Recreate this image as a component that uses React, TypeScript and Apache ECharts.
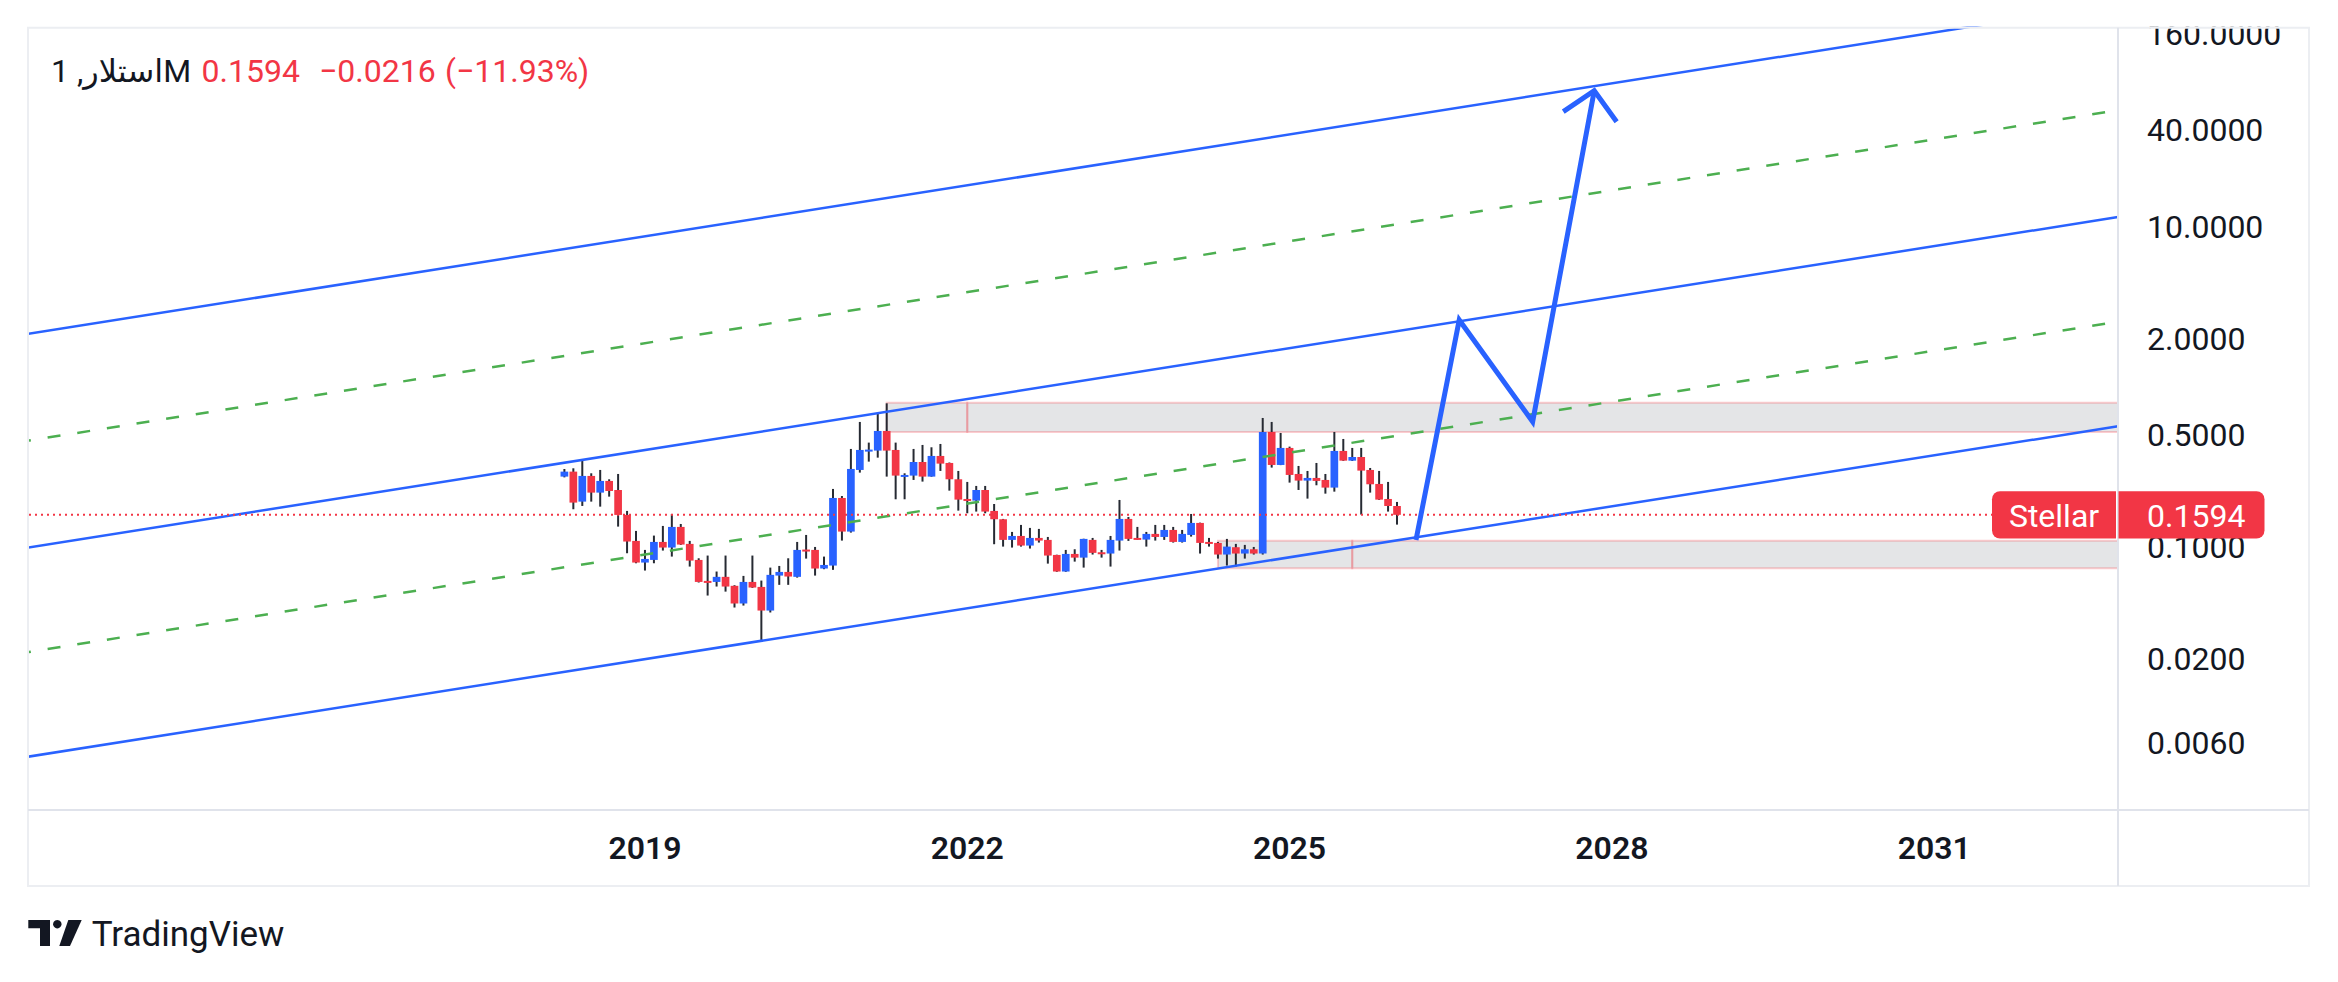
import React, { useEffect, useRef } from "react";
import * as echarts from "echarts";

const W = 2338;
const H = 982;

// ---- data (monthly candles, month index = months since Jan 2018; first candle = Apr 2018) ----
const firstMonthIndex = 3;
const opens = [
  0.276, 0.2965, 0.1927, 0.2787, 0.2193, 0.2594, 0.2278, 0.1592, 0.1096, 0.0803,
  0.0834, 0.108, 0.0996, 0.134, 0.105, 0.0834, 0.0617, 0.0608, 0.0654, 0.0575,
  0.0446, 0.0608, 0.0566, 0.0403, 0.0666, 0.0702, 0.0654, 0.0968, 0.0963, 0.0737,
  0.0769, 0.2031, 0.1253, 0.3037, 0.399, 0.401, 0.5317, 0.4048, 0.2773, 0.28,
  0.3406, 0.276, 0.3714, 0.3358, 0.2656, 0.2002, 0.1955, 0.2278, 0.1686, 0.1496,
  0.1112, 0.1177, 0.1025, 0.1144, 0.1112, 0.0896, 0.0706, 0.0909, 0.0862, 0.1112,
  0.0931, 0.0914, 0.1101, 0.1503, 0.1144, 0.1117, 0.1212, 0.116, 0.1283, 0.108,
  0.1194, 0.1419, 0.108, 0.1065, 0.0901, 0.1001, 0.0914, 0.0972, 0.0914, 0.5241,
  0.3263, 0.4167, 0.2867, 0.2606, 0.2708, 0.2631, 0.2357, 0.399, 0.3471, 0.3659,
  0.3037, 0.2484, 0.2002, 0.181,
];
const closes = [
  0.2965, 0.19, 0.2787, 0.2193, 0.2594, 0.2245, 0.1592, 0.1086, 0.0803, 0.0846,
  0.108, 0.0996, 0.134, 0.104, 0.0826, 0.0608, 0.0611, 0.0654, 0.0569, 0.0446,
  0.0608, 0.0561, 0.0403, 0.0673, 0.0702, 0.0657, 0.0963, 0.0949, 0.0737, 0.0776,
  0.2031, 0.1253, 0.3081, 0.4048, 0.4068, 0.5317, 0.401, 0.28, 0.2827, 0.3406,
  0.276, 0.3714, 0.3326, 0.2656, 0.1983, 0.1964, 0.2278, 0.167, 0.1496, 0.1112,
  0.1177, 0.1025, 0.1144, 0.1101, 0.0888, 0.0706, 0.0909, 0.0862, 0.1128, 0.0923,
  0.0914, 0.1112, 0.1503, 0.1128, 0.1117, 0.1212, 0.116, 0.1283, 0.108, 0.1212,
  0.1419, 0.1065, 0.1055, 0.0901, 0.101, 0.0914, 0.0972, 0.0914, 0.5241, 0.3263,
  0.4167, 0.2827, 0.2606, 0.2708, 0.2594, 0.2357, 0.399, 0.3471, 0.3659, 0.3008,
  0.2472, 0.1983, 0.181, 0.1594,
];
const lows = [
  0.273, 0.1727, 0.1811, 0.1927, 0.1793, 0.207, 0.1346, 0.0918, 0.0795, 0.0716,
  0.0795, 0.0954, 0.0875, 0.1035, 0.0758, 0.0603, 0.05, 0.0569, 0.0529, 0.0421,
  0.0433, 0.0558, 0.0258, 0.0392, 0.0583, 0.0583, 0.0647, 0.085, 0.0666, 0.073,
  0.0723, 0.1101, 0.1235, 0.2923, 0.3423, 0.3624, 0.276, 0.1993, 0.1993, 0.2631,
  0.2569, 0.2755, 0.2994, 0.2256, 0.1693, 0.163, 0.167, 0.163, 0.1045, 0.101,
  0.0996, 0.101, 0.0982, 0.107, 0.0791, 0.0703, 0.0703, 0.0814, 0.0747, 0.0901,
  0.0862, 0.0758, 0.0954, 0.1096, 0.1112, 0.101, 0.1101, 0.1112, 0.107, 0.107,
  0.1166, 0.0914, 0.101, 0.085, 0.0769, 0.0758, 0.085, 0.0901, 0.0901, 0.3141,
  0.3255, 0.2532, 0.2278, 0.2012, 0.2437, 0.2161, 0.2224, 0.346, 0.3455, 0.16,
  0.2193, 0.1974, 0.167, 0.1385,
];
const highs = [
  0.308, 0.311, 0.3505, 0.2895, 0.3037, 0.2656, 0.2867, 0.1686, 0.1265, 0.0963,
  0.1183, 0.1359, 0.1614, 0.1398, 0.1096, 0.0854, 0.0888, 0.0706, 0.0888, 0.058,
  0.0663, 0.0888, 0.062, 0.0747, 0.0765, 0.0854, 0.108, 0.1194, 0.1005, 0.0875,
  0.2312, 0.209, 0.4107, 0.6052, 0.4498, 0.6919, 0.791, 0.4498, 0.2895, 0.4107,
  0.435, 0.4206, 0.4412, 0.338, 0.2994, 0.2557, 0.2414, 0.2414, 0.1863, 0.1503,
  0.1247, 0.1379, 0.1321, 0.1302, 0.116, 0.0899, 0.0963, 0.0972, 0.1131, 0.1144,
  0.0963, 0.1177, 0.1974, 0.1546, 0.134, 0.1247, 0.1379, 0.1379, 0.134, 0.1283,
  0.1614, 0.1425, 0.1144, 0.108, 0.1128, 0.105, 0.1035, 0.1005, 0.6409, 0.6052,
  0.5167, 0.4246, 0.3217, 0.2994, 0.3358, 0.2867, 0.5241, 0.474, 0.4167, 0.4167,
  0.3125, 0.2994, 0.2557, 0.1918,
];

const priceTicks = [0.006, 0.02, 0.1, 0.5, 2, 10, 40, 160];
const yearTicks = [2019, 2022, 2025, 2028, 2031];
const baseYear = 2018;
const priceRange = [0.002297, 174.3];
const monthRange = [-56.8, 176.53];

// drawings: [monthIndex, price]
const channelTop = [[-58.03, 2.097], [176.53, 247.1]];
const channelUpperMid = [[-58.03, 0.4519], [176.53, 53.26]];
const channelMiddle = [[-58.03, 0.09743], [176.53, 11.48]];
const channelLowerMid = [[-58.03, 0.02168], [176.53, 2.555]];
const channelBottom = [[-58.03, 0.004826], [176.53, 0.5685]];
// zones: [startMonth, endMonth, lowPrice, highPrice]
const zones = [
  [39, 48, 0.524, 0.798],
  [48, 176.53, 0.524, 0.798],
  [76, 91, 0.074, 0.11],
  [91, 176.53, 0.074, 0.11],
];
const projection = [[98.12, 0.111], [102.95, 2.618], [111.15, 0.6075], [118.03, 70.5]];
const arrowHead = [[114.57, 52.2], [118.03, 70.5], [120.53, 45.2]];

const symbolTitle = "استلار, 1M";
const lastPrice = 0.1594;
const changeText = "\u22120.0216";
const changePctText = "(\u221211.93%)";
const seriesName = "Stellar";

const BLUE = "#2962ff";
const RED = "#f23645";
const GREEN = "#4caf50";
const WICK = "#262a33";
const TEXT = "#131722";
const FONT = "Roboto, 'DejaVu Sans', sans-serif";

const lg = (v: number) => Math.log10(v);

export default function App() {
  const ref = useRef<HTMLDivElement>(null);

  useEffect(() => {
    const el = ref.current as HTMLDivElement;
    const chart = echarts.init(el, undefined, { renderer: "svg", width: W, height: H });

    const candleData = opens.map((o, i) => [
      firstMonthIndex + i,
      lg(o),
      lg(closes[i]),
      lg(lows[i]),
      lg(highs[i]),
    ]);
    const zoneData = zones.map((z) => [z[0], z[1], lg(z[2]), lg(z[3])]);
    const toXY = (pts: number[][]) => pts.map(([t, p]) => [t, lg(p)]);

    const lineSeries = (pts: number[][], color: string, width: number, type: any, z: number, extra: any = {}) => ({
      type: "line",
      data: toXY(pts),
      symbol: "none",
      silent: true,
      clip: true,
      z,
      lineStyle: { color, width, type, ...extra },
      animation: false,
    });

    const option: any = {
      animation: false,
      backgroundColor: "#ffffff",
      grid: { left: 29, top: 27.7, width: 2089, height: 782.3, containLabel: false },
      xAxis: {
        type: "value",
        min: monthRange[0],
        max: monthRange[1],
        axisLine: { show: false },
        axisTick: { show: false },
        splitLine: { show: false },
        axisLabel: {
          customValues: yearTicks.map((y) => (y - baseYear) * 12),
          formatter: (v: number) => String(Math.round(baseYear + v / 12)),
          color: TEXT,
          fontSize: 32,
          fontWeight: 600,
          fontFamily: FONT,
          margin: 38,
          verticalAlign: "middle",
        },
      },
      yAxis: {
        type: "value",
        position: "right",
        min: lg(priceRange[0]),
        max: lg(priceRange[1]),
        axisLine: { show: false },
        axisTick: { show: false },
        splitLine: { show: false },
        axisLabel: {
          customValues: priceTicks.map(lg),
          formatter: (v: number) => Math.pow(10, v).toFixed(4),
          color: TEXT,
          fontSize: 32,
          fontFamily: FONT,
          margin: 29,
          align: "left",
        },
      },
      series: [
        {
          type: "custom",
          z: 1,
          silent: true,
          clip: true,
          data: zoneData,
          encode: { x: [0, 1], y: [2, 3] },
          renderItem: (_p: any, api: any) => {
            const a = api.coord([api.value(0), api.value(3)]);
            const b = api.coord([api.value(1), api.value(2)]);
            return {
              type: "rect",
              shape: { x: a[0], y: a[1], width: b[0] - a[0], height: b[1] - a[1] },
              style: { fill: "rgba(120,123,134,0.2)", stroke: "rgba(242,54,69,0.25)", lineWidth: 2 },
            };
          },
        },
        {
          type: "custom",
          z: 2,
          silent: true,
          clip: true,
          data: candleData,
          encode: { x: 0, y: [1, 2, 3, 4] },
          renderItem: (_p: any, api: any) => {
            const t = api.value(0);
            const o = api.value(1);
            const c = api.value(2);
            const l = api.value(3);
            const h = api.value(4);
            const pH = api.coord([t, h]);
            const pL = api.coord([t, l]);
            const pO = api.coord([t, o]);
            const pC = api.coord([t, c]);
            const bw = api.size([1, 0])[0] * 0.86;
            const top = Math.min(pO[1], pC[1]);
            const bh = Math.max(Math.abs(pO[1] - pC[1]), 2);
            const up = c >= o;
            return {
              type: "group",
              children: [
                {
                  type: "line",
                  shape: { x1: pH[0], y1: pH[1], x2: pL[0], y2: pL[1] },
                  style: { stroke: WICK, lineWidth: 2 },
                },
                {
                  type: "rect",
                  shape: { x: pO[0] - bw / 2, y: top, width: bw, height: bh },
                  style: { fill: up ? BLUE : RED },
                },
              ],
            };
          },
        },
        lineSeries(channelTop, BLUE, 2.5, "solid", 3),
        lineSeries(channelUpperMid, GREEN, 2.5, [13, 17], 3),
        lineSeries(channelMiddle, BLUE, 2.5, "solid", 3),
        lineSeries(channelLowerMid, GREEN, 2.5, [13, 17], 3),
        lineSeries(channelBottom, BLUE, 2.5, "solid", 3),
        lineSeries(
          [[monthRange[0], lastPrice], [monthRange[1], lastPrice]],
          RED,
          2,
          [2, 4],
          4
        ),
        lineSeries(projection, BLUE, 5, "solid", 5, { join: "miter", cap: "butt", miterLimit: 20 }),
        lineSeries(arrowHead, BLUE, 5, "solid", 5, { join: "miter", cap: "butt", miterLimit: 20 }),
      ],
    };

    chart.setOption(option);

    const py = (chart.convertToPixel({ gridIndex: 0 } as any, [0, lg(lastPrice)]) as number[])[1];

    const txt = (x: number, y: number, text: string, fill: string, size: number, align = "left", weight: any = "normal") => ({
      type: "text",
      x,
      y,
      z: 60,
      silent: true,
      style: { text, fill, fontSize: size, fontFamily: FONT, fontWeight: weight, align, verticalAlign: "middle" },
    });

    const graphic: any[] = [
      // mask above the frame (clips the top price label)
      { type: "rect", z: 50, silent: true, shape: { x: 2118, y: 0, width: 200, height: 26.7 }, style: { fill: "#ffffff" } },
      // frame
      {
        type: "rect",
        z: 51,
        silent: true,
        shape: { x: 28, y: 27.7, width: 2281, height: 858.3 },
        style: { fill: "none", stroke: "#eceef2", lineWidth: 2 },
      },
      {
        type: "line",
        z: 51,
        silent: true,
        shape: { x1: 2118, y1: 27.7, x2: 2118, y2: 886 },
        style: { stroke: "#e0e3eb", lineWidth: 2 },
      },
      {
        type: "line",
        z: 51,
        silent: true,
        shape: { x1: 28, y1: 810, x2: 2309, y2: 810 },
        style: { stroke: "#e0e3eb", lineWidth: 2 },
      },
      // legend
      txt(51, 71, symbolTitle, TEXT, 32),
      txt(201.5, 71, lastPrice.toFixed(4), RED, 32),
      txt(319, 71, changeText, RED, 32),
      txt(445, 71, changePctText, RED, 32),
      // price labels
      {
        type: "rect",
        z: 55,
        silent: true,
        shape: { x: 1992, y: py - 23.6, width: 124, height: 47.3, r: [8, 0, 0, 8] },
        style: { fill: RED },
      },
      txt(2054, py + 1, seriesName, "#ffffff", 32, "center"),
      {
        type: "rect",
        z: 55,
        silent: true,
        shape: { x: 2118.5, y: py - 23.6, width: 146, height: 47.3, r: [0, 8, 8, 0] },
        style: { fill: RED },
      },
      txt(2147, py + 1, lastPrice.toFixed(4), "#ffffff", 32),
      // TradingView logo
      {
        type: "polygon",
        z: 60,
        silent: true,
        shape: { points: [[28.3, 920], [50, 920], [50, 946], [40, 946], [40, 928.3], [28.3, 928.3]] },
        style: { fill: TEXT },
      },
      { type: "circle", z: 60, silent: true, shape: { cx: 57.3, cy: 924.2, r: 4.2 }, style: { fill: TEXT } },
      {
        type: "polygon",
        z: 60,
        silent: true,
        shape: { points: [[68.3, 920], [81.7, 920], [70, 946], [59.3, 946]] },
        style: { fill: TEXT },
      },
      txt(91.7, 934, "TradingView", TEXT, 35),
    ];

    chart.setOption({ graphic });

    return () => {
      chart.dispose();
    };
  }, []);

  return (
    <div
      ref={ref}
      style={{ position: "absolute", left: 0, top: 0, width: W, height: H, background: "#ffffff" }}
    />
  );
}
